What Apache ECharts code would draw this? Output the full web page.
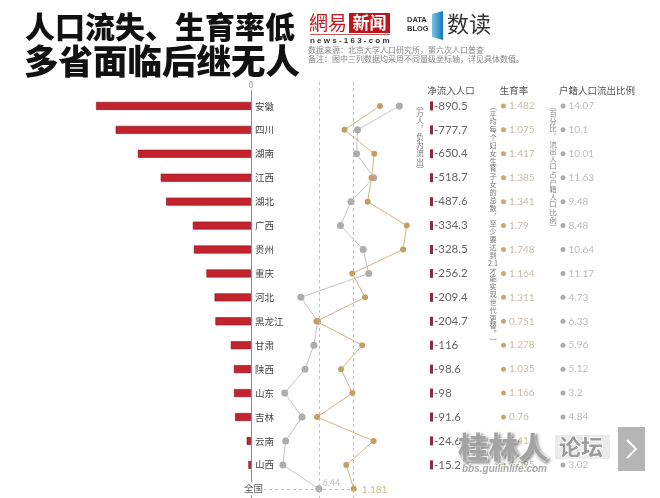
<!DOCTYPE html>
<html><head><meta charset="utf-8">
<script src="https://cdn.jsdelivr.net/npm/echarts@6/dist/echarts.min.js"></script>
<style>html,body{margin:0;padding:0;background:#fff}#c{width:660px;height:498px}</style>
</head><body><div id="c"></div>
<script>
// ---------------- data ----------------
const provinces = ['安徽','四川','湖南','江西','湖北','广西','贵州','重庆','河北','黑龙江','甘肃','陕西','山东','吉林','云南','山西'];
const netFlow = [-890.5,-777.7,-650.4,-518.7,-487.6,-334.3,-328.5,-256.2,-209.4,-204.7,-116,-98.6,-98,-91.6,-24.6,-15.2];
const fertility = [1.482,1.075,1.417,1.385,1.341,1.79,1.748,1.164,1.311,0.751,1.278,1.035,1.166,0.76,1.41,1.095];
const outflowRatio = [14.07,10.1,10.01,11.63,9.48,8.48,10.64,11.17,4.73,6.33,5.96,5.12,3.2,4.84,3.29,3.02];
const nationName = '全国';
const nationFertility = 1.181;
const nationOutflow = 6.44;
const zeroTickLabel = '0';
const headers = ['净流入人口','生育率','户籍人口流出比例'];
const note1 = ['︵','万','人','︐','负','为','流','出','︶'];
const note2 = ['︵','平','均','每','个','妇','女','生','育','子','女','的','总','数','︐','至','少','要','达','到','2.1','才','能','实','现','世','代','更','替','︒','︶'];
const note3 = ['︵','百','分','比','︐','流','出','人','口','占','户','籍','人','口','比','例','︶'];

// ---------------- layout ----------------
const FONT = '"Noto Sans CJK SC","Noto Sans",sans-serif';
const NUMFONT = 'Lato,"Noto Sans",sans-serif';
const gridLeft = 77, gridWidth = 348, gridTop = 82, rowStep = 23.93;
const n = provinces.length;
const cats = [''].concat(provinces, [nationName, '']);
const gridHeight = (cats.length - 1) * rowStep;

const chart = echarts.init(document.getElementById('c'), null, {renderer: 'canvas'});

function colAxis(offset, formatter, rich) {
  return {
    type: 'category', data: cats, boundaryGap: false, inverse: true, gridIndex: 0,
    position: 'right', offset: offset,
    axisLine: {show: false, onZero: false}, axisTick: {show: false}, splitLine: {show: false},
    axisLabel: {interval: 0, margin: 0, formatter: formatter, rich: rich}
  };
}
function inRange(i) { return i >= 1 && i <= n; }

const grayLine = {color: '#c4c4c4', width: 1};
const goldLine = {color: '#d2b585', width: 1};

function vText(x, y, chars, size, step, color) {
  return {type: 'group', silent: true, children: chars.map((c, k) => ({
    type: 'text', x: x, y: y + k * step + step / 2, silent: true,
    style: {text: c, fontSize: size, fontFamily: FONT, fill: color, textAlign: 'center', textVerticalAlign: 'middle'}
  }))};
}
function txt(x, y, text, opt) {
  return {type: 'text', x: x, y: y, silent: true, z: opt.z || 10,
    style: Object.assign({text: text, fontFamily: FONT, textAlign: 'left', textVerticalAlign: 'middle'}, opt.style)};
}

const option = {
  animation: false,
  backgroundColor: '#fff',
  textStyle: {fontFamily: FONT},
  grid: {left: gridLeft, top: gridTop, width: gridWidth, height: gridHeight, outerBoundsMode: 'none', containLabel: false},
  xAxis: [
    {type: 'value', gridIndex: 0, min: -1000, max: 1000, show: false},
    {type: 'value', gridIndex: 0, min: -2, max: 2, show: false},
    {type: 'value', gridIndex: 0, min: -16.5, max: 16.5, show: false}
  ],
  yAxis: [
    {type: 'category', data: cats, boundaryGap: false, inverse: true, gridIndex: 0,
      position: 'left', offset: -gridWidth / 2,
      axisLine: {show: true, onZero: false, lineStyle: {color: '#8c8c8c', width: 1}},
      axisTick: {show: false}, splitLine: {show: false},
      axisLabel: {inside: true, margin: 4, interval: 0, fontSize: 9.5, color: '#444', fontFamily: FONT,
        formatter: v => (v === nationName ? '' : v)}},
    colAxis(5, (v, i) => inRange(i) ? '{m| }{v|' + netFlow[i - 1] + '}' : '', {
      m: {width: 3, height: 9, backgroundColor: '#8e2b3e', fontSize: 1, verticalAlign: 'middle'},
      v: {fontSize: 11.5, color: '#666', fontFamily: NUMFONT, padding: [0, 0, 0, 1], verticalAlign: 'middle'}
    }),
    colAxis(76, (v, i) => inRange(i) ? '{d| }{v|' + fertility[i - 1] + '}' : '', {
      d: {width: 5, height: 5, borderRadius: 2.5, backgroundColor: '#c9a86b', fontSize: 1, verticalAlign: 'middle'},
      v: {fontSize: 10, color: '#c8bca6', fontFamily: NUMFONT, padding: [0, 0, 0, 3], verticalAlign: 'middle'}
    }),
    colAxis(135.5, (v, i) => inRange(i) ? '{d| }{v|' + outflowRatio[i - 1] + '}' : '', {
      d: {width: 5, height: 5, borderRadius: 2.5, backgroundColor: '#acacac', fontSize: 1, verticalAlign: 'middle'},
      v: {fontSize: 10, color: '#bdbdbd', fontFamily: NUMFONT, padding: [0, 0, 0, 3], verticalAlign: 'middle'}
    })
  ],
  series: [
    {type: 'bar', xAxisIndex: 0, yAxisIndex: 0, barWidth: 8, z: 2,
      data: [null].concat(netFlow, [null, null]),
      itemStyle: {color: '#c4222c', borderColor: '#7d1a1f', borderWidth: 0.6}},
    {type: 'line', xAxisIndex: 2, yAxisIndex: 0, z: 3, symbol: 'circle', symbolSize: 7,
      lineStyle: grayLine, itemStyle: {color: '#adadad'},
      data: [null].concat(outflowRatio, [{value: nationOutflow,
        label: {show: true, formatter: String(nationOutflow), position: 'right', distance: 0, offset: [0, -6],
          fontSize: 9, color: '#bbb', fontFamily: NUMFONT}}], [null]),
      markLine: {silent: true, symbol: 'none', label: {show: false},
        lineStyle: {type: [3, 3], color: '#bdbdbd', width: 1},
        data: [{xAxis: nationOutflow}]}},
    {type: 'line', xAxisIndex: 1, yAxisIndex: 0, z: 4, symbol: 'circle', symbolSize: 6,
      lineStyle: goldLine, itemStyle: {color: '#c49f62'},
      data: [null].concat(fertility, [{value: nationFertility,
        label: {show: true, formatter: String(nationFertility), position: 'right', distance: 5, offset: [0, 1],
          fontSize: 10, color: '#cdb98f', fontFamily: NUMFONT}}], [null]),
      markLine: {silent: true, symbol: 'none', label: {show: false},
        lineStyle: {type: [3, 3], color: '#bdbdbd', width: 1},
        data: [{xAxis: nationFertility},
          [{coord: [0, nationName]}, {coord: [nationFertility, nationName]}]]}},
    {type: 'scatter', xAxisIndex: 0, yAxisIndex: 0, symbolSize: 1, z: 20, silent: true,
      itemStyle: {color: 'rgba(0,0,0,0)'},
      data: [
        {value: [0, 0], label: {show: true, formatter: zeroTickLabel, position: 'inside', offset: [0, 3],
          color: '#888', fontSize: 9, backgroundColor: '#fff', padding: [1, 2]}},
        {value: [0, nationName], label: {show: true, formatter: nationName, position: 'inside', offset: [2.5, 0],
          color: '#333', fontSize: 9.5, backgroundColor: '#fff', padding: [2, 1]}}
      ]}
  ],
  graphic: [
    // title
    txt(25, 27, '人口流失、生育率低', {style: {fontSize: 30, fontWeight: 900, fill: '#111'}}),
    txt(24, 61, '多省面临后继无人', {style: {fontSize: 34.5, fontWeight: 900, fill: '#111'}}),
    // 网易新闻 logo
    txt(309, 23, '網易', {style: {fontSize: 19, fill: '#c8161d', fontFamily: '"Noto Sans CJK TC",' + FONT}}),
    {type: 'rect', silent: true, shape: {x: 349, y: 13, width: 41, height: 20}, style: {fill: '#c0141c'}},
    txt(369.5, 23, '新闻', {style: {fontSize: 17, fontWeight: 'bold', fill: '#fff', textAlign: 'center'}}),
    {type: 'line', silent: true, shape: {x1: 310, y1: 34.5, x2: 390, y2: 34.5}, style: {stroke: '#b03030', lineWidth: 0.8}},
    txt(310, 41, 'n e w s - 1 6 3 - c o m', {style: {fontSize: 8, fontWeight: 'bold', fill: '#333', fontFamily: '"Liberation Sans",sans-serif'}}),
    // data blog logo
    txt(407, 20, 'DATA', {style: {fontSize: 7.5, fontWeight: 'bold', fill: '#333', fontFamily: '"Liberation Sans",sans-serif'}}),
    txt(407, 29, 'BLOG', {style: {fontSize: 7.5, fontWeight: 'bold', fill: '#333', fontFamily: '"Liberation Sans",sans-serif'}}),
    {type: 'polygon', silent: true, shape: {points: [[432, 14], [443, 11], [443, 40], [432, 37]]},
      style: {fill: new echarts.graphic.LinearGradient(0, 0, 1, 0, [{offset: 0, color: '#7cc4e6'}, {offset: 1, color: '#1478b8'}])}},
    txt(447, 24, '数读', {style: {fontSize: 22, fill: '#333'}}),
    txt(308, 50, '数据来源：北京大学人口研究所，第六次人口普查', {style: {fontSize: 8, fill: '#888'}}),
    txt(308, 59, '备注：图中三列数据均采用不同量级坐标轴，详见具体数值。', {style: {fontSize: 8, fill: '#888'}}),
    // column headers
    txt(451, 90, headers[0], {style: {fontSize: 9.5, fill: '#555', textAlign: 'center'}}),
    txt(514, 90, headers[1], {style: {fontSize: 9.5, fill: '#555', textAlign: 'center'}}),
    txt(597, 90, headers[2], {style: {fontSize: 9.5, fill: '#555', textAlign: 'center'}}),
    // vertical notes
    vText(420, 101, note1, 7.5, 8.1, '#777'),
    vText(493, 102, note2, 7.2, 7.85, '#777'),
    vText(553, 102, note3, 7.2, 7.6, '#888'),
    // watermark
    {type: 'rect', silent: true, z: 30, shape: {x: 555, y: 435, width: 55, height: 24}, style: {fill: 'rgba(232,232,232,0.85)'}},
    txt(458, 447, '桂林人', {z: 31, style: {fontSize: 30, fontWeight: 'bold', fill: '#a3a3a3', stroke: '#fff', lineWidth: 2,
      textShadowColor: 'rgba(0,0,0,0.35)', textShadowBlur: 3, textShadowOffsetX: 2, textShadowOffsetY: 2}}),
    txt(559, 447, '论坛', {z: 31, style: {fontSize: 22, fontWeight: 'bold', fill: '#9c9c9c', stroke: '#fff', lineWidth: 1.5}}),
    txt(462, 469, 'bbs.guilinlife.com', {z: 31, style: {fontSize: 10, fontWeight: 'bold', fontStyle: 'italic', fill: '#a8a8a8',
      stroke: '#fff', lineWidth: 1, fontFamily: '"Liberation Sans",sans-serif'}}),
    {type: 'rect', silent: true, z: 32, shape: {x: 618, y: 427, width: 27, height: 44}, style: {fill: '#b5b5b5'}},
    {type: 'polyline', silent: true, z: 33, shape: {points: [[627, 440], [636, 449], [627, 458]]}, style: {stroke: '#fff', lineWidth: 2, fill: null}}
  ]
};
chart.setOption(option);
</script>
</body></html>
